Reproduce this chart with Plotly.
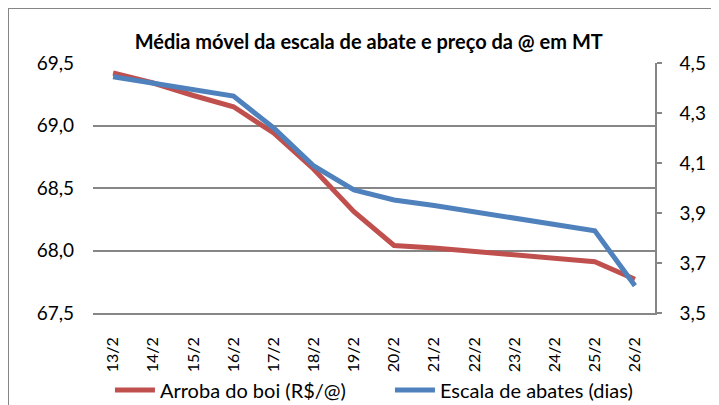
import plotly.graph_objects as go

categories = ["13/2", "14/2", "15/2", "16/2", "17/2", "18/2", "19/2",
              "20/2", "21/2", "22/2", "23/2", "24/2", "25/2", "26/2"]
arroba = [69.42, 69.34, 69.24, 69.15, 68.94, 68.65, 68.31,
          68.04, 68.02, 67.99, 67.96, 67.93, 67.91, 67.77]
escala = [4.445, 4.42, 4.395, 4.368, 4.24, 4.088, 3.992,
          3.952, 3.93, 3.905, 3.88, 3.855, 3.829, 3.609]
left_ticks = [67.5, 68.0, 68.5, 69.0, 69.5]
right_ticks = [3.5, 3.7, 3.9, 4.1, 4.3, 4.5]

FONT = "Lato"
fig = go.Figure()
fig.add_trace(go.Scatter(x=categories, y=arroba, mode="lines",
                         name="Arroba do boi (R$/@)",
                         line=dict(color="#C0504D", width=5)))
fig.add_trace(go.Scatter(x=categories, y=escala, mode="lines",
                         name="Escala de abates (dias)", yaxis="y2",
                         line=dict(color="#4F81BD", width=5)))

fig.update_layout(
    width=719, height=405,
    margin=dict(l=85, r=72, t=55, b=100, autoexpand=False),
    paper_bgcolor="white", plot_bgcolor="white",
    font=dict(family=FONT, size=19, color="#000000"),
    title=dict(text="<b>Média móvel da escala de abate e preço da @ em MT</b>",
               x=0.5017, xanchor="center", y=0.916, yanchor="middle",
               font=dict(family=FONT, size=20, color="#000000"), automargin=False),
    xaxis=dict(type="category", range=[-0.5, 13.5], tickangle=-90,
               showgrid=False, showline=True, linecolor="#868686", linewidth=1.5,
               ticks="outside", ticklen=16, tickcolor="rgba(0,0,0,0)",
               tickfont=dict(size=16), automargin=False),
    yaxis=dict(range=[67.5, 69.5], tickvals=left_ticks,
               ticktext=[f"{v:.1f}".replace(".", ",") for v in left_ticks],
               showgrid=True, gridcolor="#868686", gridwidth=1.5,
               showline=False, zeroline=False, ticks="", ticklabelstandoff=18,
               automargin=False),
    yaxis2=dict(range=[3.5, 4.5], tickvals=right_ticks,
                ticktext=[f"{v:.1f}".replace(".", ",") for v in right_ticks],
                overlaying="y", side="right", showgrid=False,
                showline=True, linecolor="#868686", linewidth=1.5,
                ticks="outside", ticklen=5, tickcolor="#868686", tickwidth=1.5,
                ticklabelstandoff=14, zeroline=False, automargin=False),
    showlegend=True,
    legend=dict(orientation="h", x=-0.0001, xanchor="left", y=-0.308, yanchor="middle",
                font=dict(size=20), entrywidth=208, itemwidth=40, indentation=17,
                bgcolor="rgba(0,0,0,0)"),
    shapes=[dict(type="rect", xref="paper", yref="paper",
                 x0=-85 / 562, x1=1.3, y0=-0.6, y1=1 + 55 / 250,
                 line=dict(color="#868686", width=2), layer="below")],
)

fig.write_html("out.html")
